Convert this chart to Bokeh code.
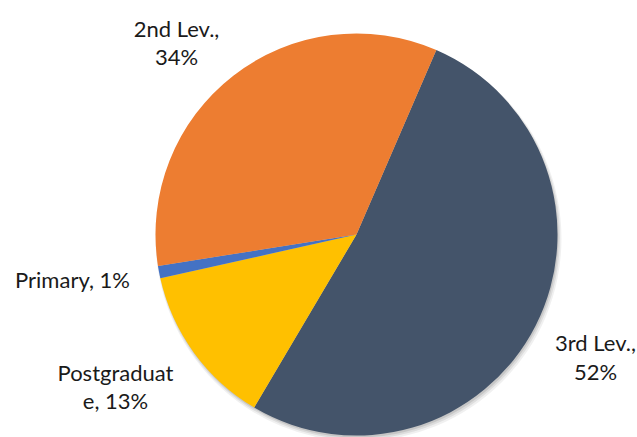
import math
from bokeh.plotting import figure
from bokeh.models import Range1d, ColumnDataSource
from bokeh.core.properties import value
from bokeh.embed import file_html
from bokeh.resources import INLINE

# ---- data ----
categories = ["3rd Lev.", "Postgraduate", "Primary", "2nd Lev."]
shares = [52, 13, 1, 34]
colors = ["#44546A", "#FFC000", "#4472C4", "#ED7D31"]
first_slice_angle = 23.4  # degrees clockwise from 12 o'clock

# ---- layout (pixel space) ----
W, H = 637, 437
cx, cy, r = 356, 234, 201

p = figure(width=W, height=H, output_backend="svg", toolbar_location=None,
           x_range=Range1d(0, W), y_range=Range1d(H, 0), min_border=0)
p.axis.visible = False
p.grid.visible = False
p.outline_line_color = None
p.background_fill_color = "white"

# soft shadow
for off, a, dr in [(4, 0.06, 2), (3, 0.08, 1), (2, 0.10, 0)]:
    p.circle(x=[cx + off * 0.5], y=[cy + off], radius=r + dr, radius_units="data",
             fill_color="#000000", fill_alpha=a, line_color=None)

total = sum(shares)
starts, ends = [], []
acc = first_slice_angle
for v in shares:
    a0 = acc
    a1 = acc + 360.0 * v / total
    # bokeh angles: counterclockwise on screen from +x
    starts.append(math.radians(90 - a1))
    ends.append(math.radians(90 - a0))
    acc = a1

src = ColumnDataSource(dict(start=starts, end=ends, color=colors))
p.wedge(x=cx, y=cy, radius=r, radius_units="data", start_angle="start",
        end_angle="end", fill_color="color", line_color=None, source=src)

# ---- labels ----
def pct(i):
    return f"{shares[i]}%"

label_lines = [
    # (text, page_x_center, page_baseline)
    (f"{categories[3]},", 176, 28), (pct(3), 176, 56),
    (f"{categories[0]},", 595, 342), (pct(0), 595, 371),
    (f"{categories[2]}, {pct(2)}", 72, 279),
    (categories[1][:-1], 115, 372), (f"{categories[1][-1]}, {pct(1)}", 115, 400),
]
lsrc = ColumnDataSource(dict(
    x=[t[1] for t in label_lines],
    y=[t[2] for t in label_lines],
    text=[t[0] for t in label_lines],
))
p.text(x="x", y="y", text="text", source=lsrc, text_align="center",
       text_baseline="alphabetic", text_font=value("Lato"),
       text_font_size="22px", text_color="#1a1a1a")

open("out.html", "w").write(file_html(p, INLINE))
